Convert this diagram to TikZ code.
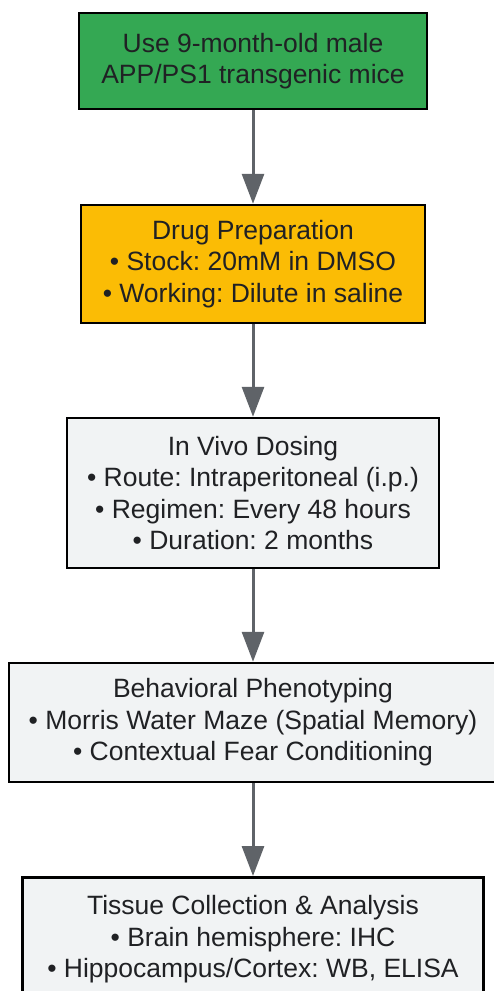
\documentclass[tikz,border=0pt]{standalone}
\usepackage{fontspec}
\setmainfont{Liberation Sans}
\usetikzlibrary{arrows.meta}
\definecolor{stepgreen}{HTML}{34A853}
\definecolor{stepyellow}{HTML}{FBBC05}
\definecolor{stepgray}{HTML}{F1F3F4}
\definecolor{arrowgray}{HTML}{5F6368}
\definecolor{textdark}{HTML}{202124}
\frenchspacing
\tikzset{
  stepbox/.style={draw=black, line width=2.5pt, align=center, inner sep=0pt,
    text=textdark, font=\fontsize{26.5}{31.5}\selectfont},
  flow/.style={draw=arrowgray, line width=3pt,
    -{Triangle[width=22pt,length=30pt]}}
}
\begin{document}
\begin{tikzpicture}[x=1pt,y=-1pt]
\useasboundingbox (0,0) rectangle (494,991);

\node[stepbox, fill=stepgreen, minimum width=348pt, minimum height=96pt] (mice) at (253,61)
  {Use 9-month-old male\\APP/PS1 transgenic mice};
\node[stepbox, fill=stepyellow, minimum width=344pt, minimum height=118pt] (drug) at (253,264)
  {Drug Preparation\\\textbullet{} Stock: 20mM in DMSO\\\textbullet{} Working: Dilute in saline};
\node[stepbox, fill=stepgray, minimum width=372pt, minimum height=150pt] (dosing) at (253,493)
  {In Vivo Dosing\\\textbullet{} Route: Intraperitoneal (i.p.)\\\textbullet{} Regimen: Every 48 hours\\\textbullet{} Duration: 2 months};
\node[stepbox, fill=stepgray, minimum width=488pt, minimum height=119pt] (behav) at (253,722.5)
  {Behavioral Phenotyping\\\textbullet{} Morris Water Maze (Spatial Memory)\\\textbullet{} Contextual Fear Conditioning};
\node[stepbox, fill=stepgray, minimum width=461pt, minimum height=124pt, anchor=north] (tissue) at (253,876)
  {Tissue Collection \& Analysis\\\textbullet{} Brain hemisphere: IHC\\\textbullet{} Hippocampus/Cortex: WB, ELISA};

\draw[flow] (mice) -- (drug);
\draw[flow] (drug) -- (dosing);
\draw[flow] (dosing) -- (behav);
\draw[flow] (behav) -- (tissue);
\end{tikzpicture}
\end{document}
